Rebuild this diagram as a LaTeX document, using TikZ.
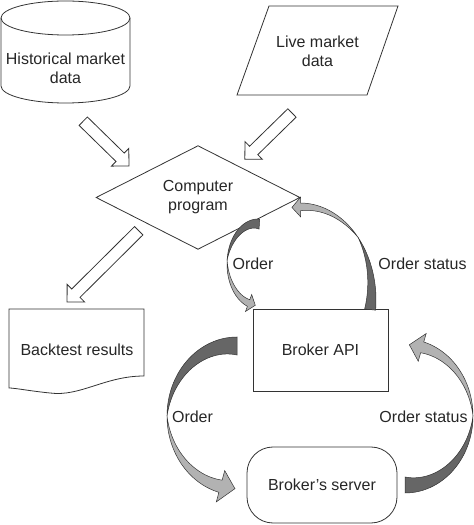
\documentclass[tikz,border=0pt]{standalone}
\usepackage{fontspec}
\setmainfont{Liberation Sans}
\usetikzlibrary{shapes.geometric,shapes.arrows}

\tikzset{
  every node/.style={font=\fontsize{16}{19}\selectfont, text=black!85},
  outline/.style={draw=black!80, line width=0.8pt},
  box/.style={outline, rectangle, inner sep=0},
  decision/.style={outline, diamond, inner sep=0},
  fatarrow/.style={outline, single arrow, fill=white, inner xsep=0, inner ysep=5.5,
    single arrow head extend=6.5, sloped, allow upside down},
  darkpart/.style={fill=black!60, draw=black!80, line width=0.5pt},
  lightpart/.style={fill=black!30, draw=black!80, line width=0.5pt},
}

% curved ribbon arrow: cx, cy, rx, ry, start, thin, end, tail width
\newcommand{\twistarrow}[8]{%
  \pgfmathsetmacro{\wa}{#8}
  \pgfmathsetmacro{\wb}{0.7*#8}
  \pgfmathsetmacro{\hx}{0.55*#8}
  \pgfmathsetmacro{\dl}{0.95*#8/((#3+#4)/2)*57.3}
  \filldraw[darkpart]
    plot[domain=#5:#6, samples=30, variable=\t] ({#1+#3*cos(\t)}, {#2+#4*sin(\t)})
    -- plot[domain=#6:#5, samples=30, variable=\t]
       ({#1+(#3-\wa*(\t-#6)/(#5-#6))*cos(\t)}, {#2+(#4-\wa*(\t-#6)/(#5-#6))*sin(\t)})
    -- cycle;
  \filldraw[lightpart]
    plot[domain=#6:#7, samples=30, variable=\t] ({#1+#3*cos(\t)}, {#2+#4*sin(\t)})
    -- ({#1+(#3+\hx)*cos(#7)}, {#2+(#4+\hx)*sin(#7)})
    -- ({#1+(#3-\wb/2)*cos(#7+\dl)}, {#2+(#4-\wb/2)*sin(#7+\dl)})
    -- ({#1+(#3-\wb-\hx)*cos(#7)}, {#2+(#4-\wb-\hx)*sin(#7)})
    -- plot[domain=#7:#6, samples=30, variable=\t]
       ({#1+(#3-\wb*(\t-#6)/(#7-#6))*cos(\t)}, {#2+(#4-\wb*(\t-#6)/(#7-#6))*sin(\t)})
    -- cycle;
}

\begin{document}
\begin{tikzpicture}[x=1pt, y=1pt]
\useasboundingbox (0,0) rectangle (474,525);

% data sources
\draw[outline] (65.5,507) ellipse (64.5 and 17);
\draw[outline] (1,507) -- (1,439) arc (180:360:64.5 and 17) -- (130,507);
\node[align=center] (hist) at (65.5,457) {Historical market\\data};

\draw[outline] (269,519) -- (398,519) -- (367,430) -- (237,430) -- cycle;
\node[align=center] (live) at (317.5,474) {Live market\\data};

% program
\node[decision, minimum width=204, minimum height=103, align=center] (prog) at (198,327.5) {Computer\\program};

% results
\draw[outline] (9,216) -- (144,216) -- (144,149)
  .. controls (105,149) and (80,128) .. (50,132)
  .. controls (30,134) and (15,137) .. (9,137) -- cycle;
\node (backtest) at (77,175) {Backtest results};

% broker
\node[box, minimum width=135, minimum height=82] (api) at (320.5,175) {Broker API};
\node[box, rounded corners=26, minimum width=150, minimum height=76] (server) at (322,40) {Broker's server};

% hollow arrows
\coordinate (a1s) at (81,406);  \coordinate (a1e) at (127,361);
\coordinate (a2s) at (294,414); \coordinate (a2e) at (247,368);
\coordinate (a3s) at (141,296.5); \coordinate (a3e) at (69,225);
\path (a1s) -- node[fatarrow, minimum height=64] (feedhist) {} (a1e);
\path (a2s) -- node[fatarrow, minimum height=66] (feedlive) {} (a2e);
\path (a3s) -- node[fatarrow, minimum height=101] (feedres) {} (a3e);

% order flow
\twistarrow{258}{261}{31}{45}{87}{175}{250}{10}
\twistarrow{300}{225}{76}{97}{-6}{40}{89.5}{11}
\twistarrow{237}{109}{70}{79}{90}{180}{255}{18}
\twistarrow{405}{109}{68}{77}{-90}{0}{74}{16}

\node (ord1) at (253,261) {Order};
\node (stat1) at (422.5,261) {Order status};
\node (ord2) at (192.5,108) {Order};
\node (stat2) at (423.5,108) {Order status};
\end{tikzpicture}
\end{document}
